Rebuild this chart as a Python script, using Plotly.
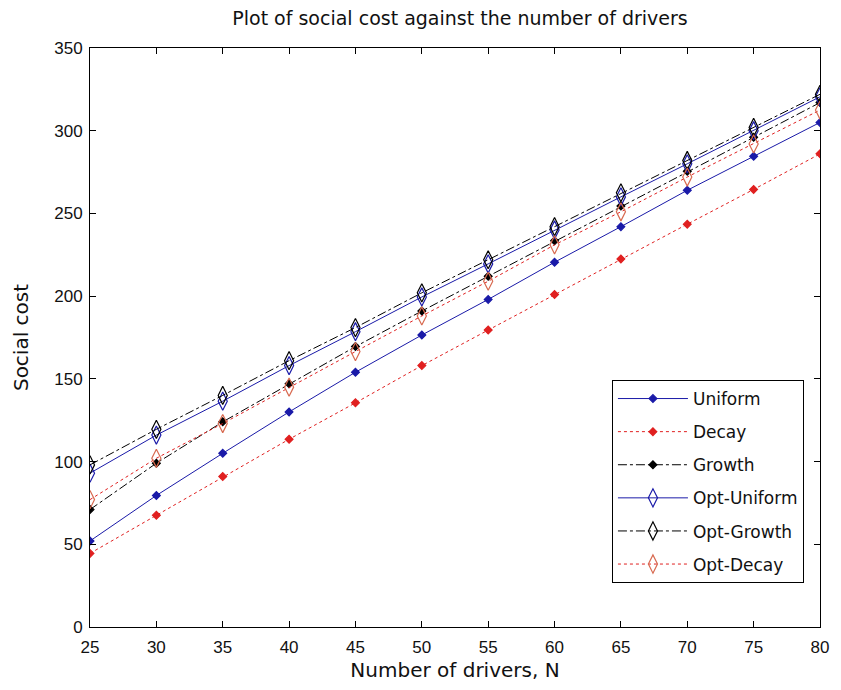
import plotly.graph_objects as go

# Number of drivers N
drivers = [25, 30, 35, 40, 45, 50, 55, 60, 65, 70, 75, 80]

# Social cost for each pricing scheme
uniform = [52, 79.5, 105, 130, 154, 176.5, 198, 220.5, 242, 264, 284.5, 305]
decay = [44.5, 67.5, 91, 113.5, 135.5, 158, 179.5, 201, 222.5, 243.5, 264.5, 286]
growth = [71, 99, 124, 147, 169.5, 191, 212, 233.5, 254.5, 275.5, 296, 317]
opt_uniform = [93, 116, 136.5, 158, 178.5, 199.5, 219.5, 240, 260, 280, 300, 320.5]
opt_growth = [98, 119.5, 140, 161, 181, 202, 222, 242, 262.5, 282, 302, 322]
opt_decay = [77, 102, 123, 145, 166.5, 188, 209, 231, 251, 272, 292, 312.5]

x_ticks = [25, 30, 35, 40, 45, 50, 55, 60, 65, 70, 75, 80]
y_ticks = [0, 50, 100, 150, 200, 250, 300, 350]

BLUE = "#1a1aa8"
RED = "#e02020"
BLACK = "#000000"
SALMON = "#d86a50"

series = [
    ("Uniform", uniform, BLUE, "solid", "diamond", 6, BLUE),
    ("Decay", decay, RED, "dot", "diamond", 6, RED),
    ("Growth", growth, BLACK, "dashdot", "diamond", 6, BLACK),
    ("Opt-Uniform", opt_uniform, BLUE, "solid", "diamond-tall-open", 13, BLUE),
    ("Opt-Growth", opt_growth, BLACK, "dashdot", "diamond-tall-open", 13, BLACK),
    ("Opt-Decay", opt_decay, RED, "dot", "diamond-tall-open", 13, SALMON),
]

fig = go.Figure()
for name, vals, lc, dash, sym, size, mc in series:
    fig.add_trace(go.Scatter(
        x=drivers, y=vals, name=name, mode="lines+markers",
        legendgroup=name,
        line=dict(color=lc, width=1, dash=dash),
        marker=dict(symbol=sym, size=size, color=mc,
                    line=dict(color=mc, width=1.2)),
    ))

tick_font = "Liberation Sans, Arial, sans-serif"
text_font = "DejaVu Sans, Verdana, sans-serif"
axis_common = dict(
    showgrid=False, zeroline=False,
    showline=True, linecolor="black", linewidth=1, mirror="ticks",
    ticks="inside", ticklen=6, tickcolor="black", tickwidth=1,
    tickfont=dict(family=tick_font, size=17, color="#111"),
)

fig.update_layout(
    width=841, height=690,
    margin=dict(l=90, r=13, t=48, b=63),
    paper_bgcolor="white", plot_bgcolor="white",
    title=dict(text="Plot of social cost against the number of drivers",
               x=0.547, xanchor="center", y=0.974, yanchor="middle",
               font=dict(family=text_font, size=19, color="#111")),
    xaxis=dict(range=[25, 80], tickvals=x_ticks, ticklabelstandoff=5,
               title=dict(text="Number of drivers, N", standoff=6,
                          font=dict(family=text_font, size=20, color="#111")),
               **axis_common),
    yaxis=dict(range=[0, 350], tickvals=y_ticks, ticklabelstandoff=3,
               title=dict(text="Social cost", standoff=20,
                          font=dict(family=text_font, size=20, color="#111")),
               **axis_common),
    legend=dict(x=0.978, y=0.076, xanchor="right", yanchor="bottom",
                bgcolor="white", bordercolor="black", borderwidth=1,
                font=dict(family=text_font, size=17, color="#111"),
                traceorder="grouped", tracegroupgap=8, itemwidth=70),
    showlegend=True,
)

fig.write_html("out.html")
